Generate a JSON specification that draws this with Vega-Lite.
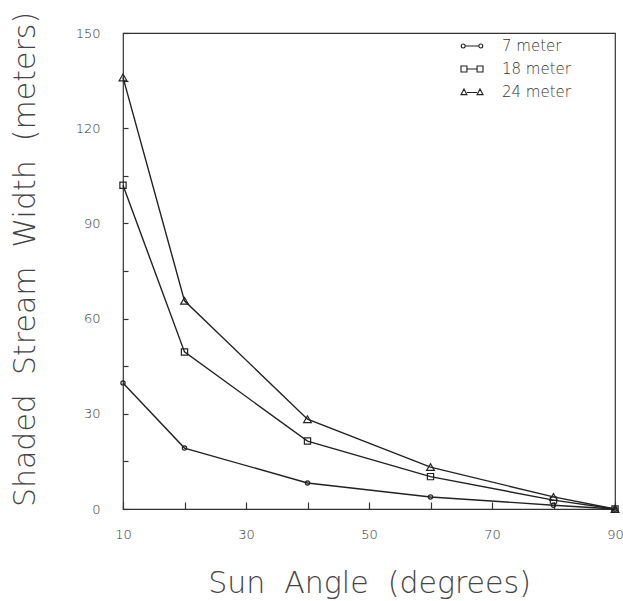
{
  "$schema": "https://vega.github.io/schema/vega-lite/v6.json",
  "width": 492,
  "height": 476,
  "autosize": "none",
  "padding": {"left": 123, "top": 33, "right": 8, "bottom": 92},
  "background": "white",
  "config": {
    "view": {"stroke": "#333", "strokeWidth": 1.2},
    "font": "DejaVu Sans"
  },
  "data": {
    "values": [
      {"angle": 10, "width": 39.7, "size": "7 meter"},
      {"angle": 20, "width": 19.2, "size": "7 meter"},
      {"angle": 40, "width": 8.2, "size": "7 meter"},
      {"angle": 60, "width": 3.8, "size": "7 meter"},
      {"angle": 80, "width": 1.2, "size": "7 meter"},
      {"angle": 90, "width": 0, "size": "7 meter"},
      {"angle": 10, "width": 102.0, "size": "18 meter"},
      {"angle": 20, "width": 49.5, "size": "18 meter"},
      {"angle": 40, "width": 21.4, "size": "18 meter"},
      {"angle": 60, "width": 10.2, "size": "18 meter"},
      {"angle": 80, "width": 2.8, "size": "18 meter"},
      {"angle": 90, "width": 0, "size": "18 meter"},
      {"angle": 10, "width": 136.0, "size": "24 meter"},
      {"angle": 20, "width": 65.6, "size": "24 meter"},
      {"angle": 40, "width": 28.3, "size": "24 meter"},
      {"angle": 60, "width": 13.2, "size": "24 meter"},
      {"angle": 80, "width": 3.8, "size": "24 meter"},
      {"angle": 90, "width": 0, "size": "24 meter"}
    ]
  },
  "layer": [
    {
      "mark": {"type": "line", "color": "#222", "strokeWidth": 1.4},
      "encoding": {
        "x": {
          "field": "angle", "type": "quantitative",
          "scale": {"domain": [10, 90], "nice": false, "zero": false},
          "axis": {
            "title": "Sun\u00a0\u00a0Angle\u00a0\u00a0(degrees)",
            "values": [10, 20, 30, 40, 50, 60, 70, 80, 90],
            "labelExpr": "datum.value % 20 == 10 ? datum.label : ''",
            "grid": false, "domain": false,
            "tickSize": -7, "tickColor": "#333", "tickWidth": 1.2,
            "labelPadding": 26, "labelFontSize": 13, "labelColor": "#333", "labelFontWeight": 300,
            "labelFont": "DejaVu Sans",
            "labelFlush": false,
            "titleFont": "DejaVu Sans",
            "titleFontSize": 30, "titleFontWeight": 200, "titleColor": "#444", "titlePadding": 27
          }
        },
        "y": {
          "field": "width", "type": "quantitative",
          "scale": {"domain": [0, 150], "nice": false},
          "axis": {
            "title": "Shaded\u00a0\u00a0Stream\u00a0\u00a0Width\u00a0\u00a0(meters)",
            "values": [0, 15, 30, 45, 60, 75, 90, 105, 120, 135, 150],
            "labelExpr": "datum.value % 30 == 0 ? datum.label : ''",
            "grid": false, "domain": false,
            "tickSize": -5, "tickColor": "#333", "tickWidth": 1.2,
            "labelPadding": 28, "labelFontSize": 13, "labelColor": "#333", "labelFontWeight": 300,
            "labelFont": "DejaVu Sans",
            "labelFlush": false,
            "titleFont": "DejaVu Sans",
            "titleFontSize": 30, "titleFontWeight": 200, "titleColor": "#444", "titlePadding": 35,
            "titleY": 226
          }
        },
        "detail": {"field": "size"}
      }
    },
    {
      "mark": {"type": "point", "filled": false, "color": "#222", "strokeWidth": 1.2, "opacity": 1},
      "encoding": {
        "x": {"field": "angle", "type": "quantitative"},
        "y": {"field": "width", "type": "quantitative"},
        "shape": {
          "field": "size", "type": "nominal",
          "scale": {"domain": ["7 meter", "18 meter", "24 meter"], "range": ["circle", "square", "triangle-up"]},
          "legend": null
        },
        "size": {
          "field": "size", "type": "nominal",
          "scale": {"domain": ["7 meter", "18 meter", "24 meter"], "range": [18, 60, 55]},
          "legend": null
        }
      }
    },
    {
      "mark": {"type": "point", "filled": false, "color": "#222", "opacity": 0},
      "encoding": {
        "x": {"field": "angle", "type": "quantitative"},
        "y": {"field": "width", "type": "quantitative"},
        "shape": {
          "field": "size", "type": "nominal",
          "scale": {
            "domain": ["7 meter", "18 meter", "24 meter"],
            "range": [
              "M-0.62,0 A0.18,0.18 0 1,1 -0.98,0 A0.18,0.18 0 1,1 -0.62,0 Z M-0.62,0 L0.62,0 M0.98,0 A0.18,0.18 0 1,1 0.62,0 A0.18,0.18 0 1,1 0.98,0 Z",
              "M-1,-0.27 L-0.46,-0.27 L-0.46,0.27 L-1,0.27 Z M-0.46,0 L0.46,0 M0.46,-0.27 L1,-0.27 L1,0.27 L0.46,0.27 Z",
              "M-0.73,-0.27 L-0.46,0.24 L-1,0.24 Z M-0.46,0.05 L0.46,0.05 M0.73,-0.27 L1,0.24 L0.46,0.24 Z"
            ]
          },
          "legend": {
            "title": null,
            "orient": "none",
            "legendX": 337,
            "legendY": 1,
            "padding": 0,
            "symbolSize": 484,
            "symbolStrokeWidth": 1.1,
            "symbolStrokeColor": "#222",
            "symbolFillColor": "transparent",
            "symbolOpacity": 1,
            "labelFont": "DejaVu Sans",
            "labelFontSize": 15,
            "labelFontWeight": 300,
            "labelColor": "#333",
            "labelOffset": 18,
            "rowPadding": 3
          }
        }
      }
    }
  ],
  "resolve": {"scale": {"shape": "independent", "size": "independent"}}
}
